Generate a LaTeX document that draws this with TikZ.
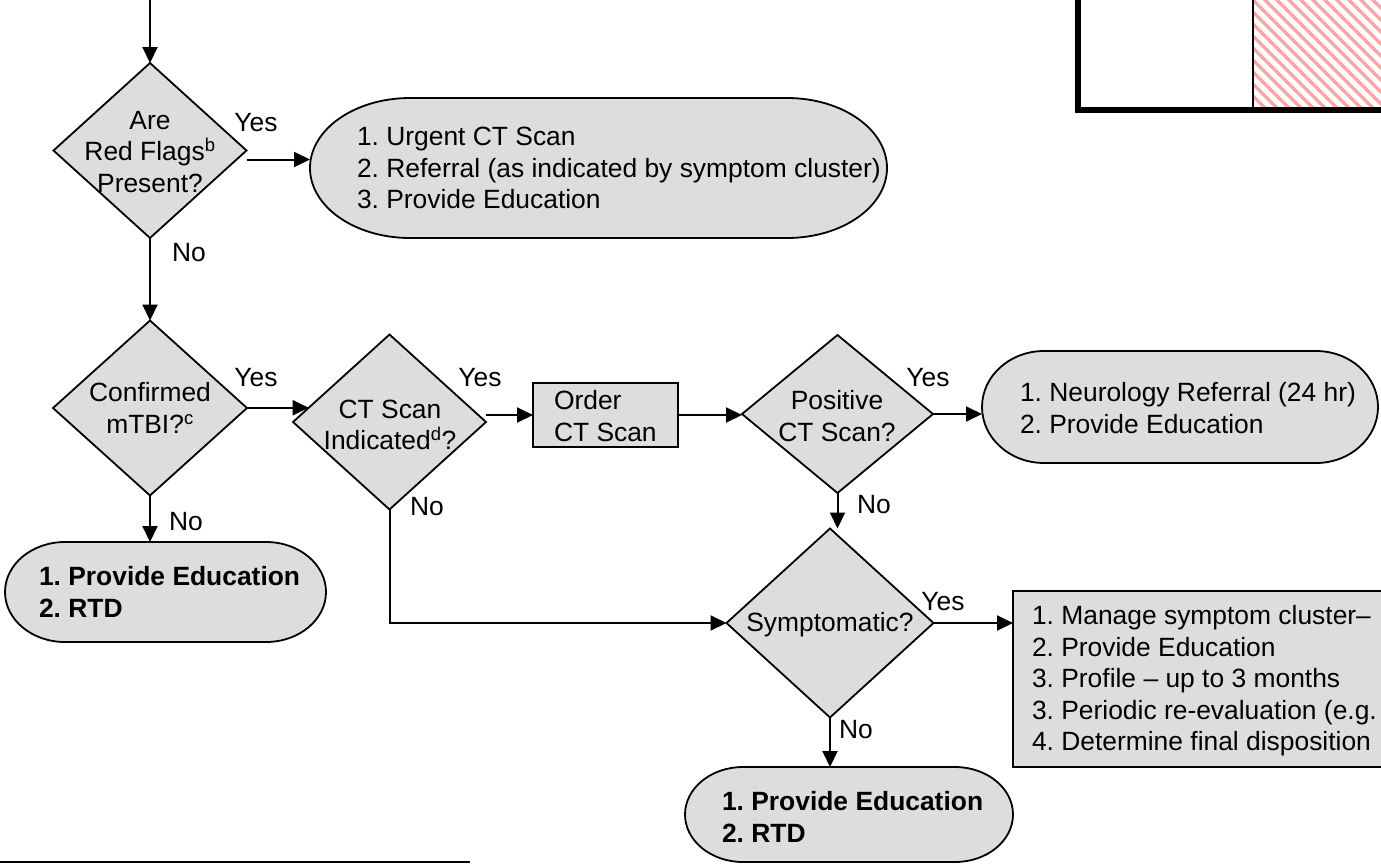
\documentclass[tikz,border=0pt]{standalone}
\usepackage{fontspec}
\setmainfont{Liberation Sans}
\usetikzlibrary{shapes.geometric,arrows.meta}
\definecolor{boxgray}{RGB}{221,221,221}
\definecolor{hatchpink}{RGB}{255,165,165}
\frenchspacing
\newcommand\stadiumshape[3]{%
  \draw[line width=1.8pt, fill=boxgray]
    ([xshift=#2]#1.north west) -- ([xshift=-#2]#1.north east)
    arc[start angle=90, end angle=-90, x radius=#2pt, y radius=#3pt]
    -- ([xshift=#2]#1.south west)
    arc[start angle=270, end angle=90, x radius=#2pt, y radius=#3pt] -- cycle;}
\tikzset{
  every node/.style={font=\fontsize{26.4pt}{31.5pt}\selectfont, inner sep=0pt, outer sep=0pt},
  dec/.style={diamond, draw, fill=boxgray, line width=1.8pt, inner sep=0pt},
  procbox/.style={rectangle, draw, fill=boxgray, line width=2.6pt},
  holder/.style={rectangle},
  lefttext/.style={anchor=west, align=left},
  boldtext/.style={anchor=west, align=left, font=\fontsize{26.4pt}{31.5pt}\selectfont\bfseries},
  arr/.style={-{Triangle[length=16pt,width=15pt]}, line width=2pt},
}
\begin{document}
\begin{tikzpicture}[x=1pt,y=-1pt]
\useasboundingbox (0,0) rectangle (1381,863);
\clip (0,0) rectangle (1381,863);

% legend fragment (top right)
\begin{scope}
  \clip (1254,0) rectangle (1381,108);
  \foreach \i in {1128,1140,...,1392} \draw[hatchpink, line width=3.5pt] (\i,-5) -- ++(125,125);
\end{scope}
\draw[line width=2.5pt] (1253,0) -- (1253,110);
\draw[line width=6pt] (1078,-5) -- (1078,110) -- (1395,110);

% footnote rule
\draw[line width=1.2pt] (0,862) -- (470,862);

% decisions
\coordinate (top) at (150,0);
\node[dec, minimum width=193pt, minimum height=175pt] (d1) at (150,150.5) {};
\node[align=center] (d1t) at (150,152) {Are\\Red Flags\textsuperscript{b}\\Present?};

\node[dec, minimum width=194pt, minimum height=175pt] (d2) at (150,408) {};
\node[align=center] (d2t) at (150,408) {Confirmed\\mTBI?\textsuperscript{c}};

\node[dec, minimum width=193pt, minimum height=175pt] (d3) at (389.5,422) {};
\node[align=center] (d3t) at (390,425) {CT Scan\\Indicated\textsuperscript{d}?};

\node[dec, minimum width=191pt, minimum height=158pt] (d4) at (837.5,414) {};
\node[align=center] (d4t) at (837,416) {Positive\\CT Scan?};

\node[dec, minimum width=207pt, minimum height=189pt] (d5) at (830,623) {};
\node (d5t) at (830,625) {Symptomatic?};

% terminals
\node[holder, minimum width=577pt, minimum height=140pt] (o1) at (598.5,168) {};
\stadiumshape{o1}{100}{70}
\node[lefttext] (o1t) at (357,168) {1. Urgent CT Scan\\2. Referral (as indicated by symptom cluster)\\3. Provide Education};

\node[holder, minimum width=396pt, minimum height=112pt] (no) at (1180,407) {};
\stadiumshape{no}{62}{56}
\node[lefttext] (not) at (1020,408) {1. Neurology Referral (24 hr)\\2. Provide Education};

\node[holder, minimum width=321pt, minimum height=100pt] (lt) at (165.5,592) {};
\stadiumshape{lt}{60}{50}
\node[boldtext] (ltt) at (39,592) {1. Provide Education\\2. RTD};

\node[holder, minimum width=328pt, minimum height=95pt] (bt) at (849,814.5) {};
\stadiumshape{bt}{58}{47.5}
\node[boldtext] (btt) at (722,817) {1. Provide Education\\2. RTD};

% process boxes
\node[procbox, minimum width=145pt, minimum height=64pt] (ob) at (605.5,415) {};
\node[lefttext] (obt) at (554,416) {Order\\CT Scan};

\node[procbox, minimum width=487pt, minimum height=176pt] (rb) at (1256.5,679) {};
\node[lefttext] (rbt) at (1032,681) {1. Manage symptom cluster–\\2. Provide Education\\3. Profile – up to 3 months\\3. Periodic re-evaluation (e.g.\\4. Determine final disposition};

% connectors
\draw[arr] (top) -- (d1.north);
\draw[arr] ([yshift=-9pt]d1.east) -- ([yshift=-9pt]d1.east -| o1.west);
\draw[arr] (d1.south) -- (d2.north);
\draw[arr] (d2.south) -- (d2.south |- lt.north);
\draw[arr] (d3.170 -| d2.east) -- (d3.170);
\draw[arr] (d3.east |- ob.west) -- (ob.west);
\draw[arr] (ob.east) -- (ob.east -| d4.west);
\draw[arr] (d4.east) -- (d4.east -| no.west);
\draw[arr] (d4.south) -- (d4.south |- d5.north);
\draw[arr] (d3.south) |- (d5.west);
\draw[arr] (d5.east) -- (d5.east -| rb.west);
\draw[arr] (d5.south) -- (d5.south |- bt.north);

% labels
\node (y1) at (256,123) {Yes};
\node (n1) at (189,253) {No};
\node (y2) at (256,378) {Yes};
\node (n2) at (186,522) {No};
\node (y3) at (480,378) {Yes};
\node (n3) at (427,507) {No};
\node (y4) at (928,378) {Yes};
\node (n4) at (874,505) {No};
\node (y5) at (943,602) {Yes};
\node (n5) at (856,730) {No};
\end{tikzpicture}
\end{document}
